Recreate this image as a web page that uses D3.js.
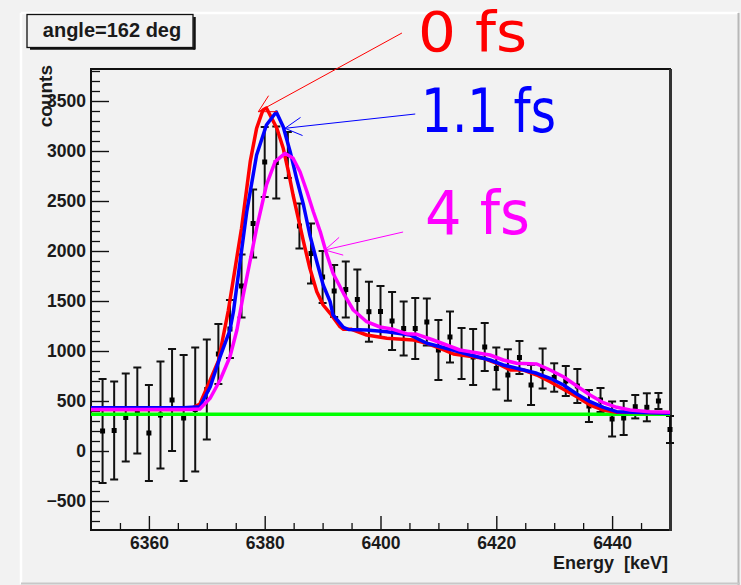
<!DOCTYPE html>
<html><head><meta charset="utf-8">
<script src="https://cdn.jsdelivr.net/npm/d3@7"></script>
<style>
html,body{margin:0;padding:0;background:#f2f2f2;}
svg{display:block;}
</style></head><body>
<svg id="chart" width="741" height="585"></svg>
<script>
// ---- data ----
const energy = [6352,6354,6356,6358,6360,6362,6364,6366,6368,6370,6372,6374,6376,6378,6380,6382,6384,6386,6388,6390,6392,6394,6396,6398,6400,6402,6404,6406,6408,6410,6412,6414,6416,6418,6420,6422,6424,6426,6428,6430,6432,6434,6436,6438,6440,6442,6444,6446,6448,6450];
const counts = [200,205,335,405,180,360,510,330,415,615,970,1220,1650,2275,2890,2885,2960,2250,1975,1740,1600,1615,1515,1393,1395,1300,1225,1225,1290,1010,1140,975,940,1040,825,760,935,660,825,735,700,650,450,510,320,330,443,437,500,215];
const errors = [520,490,440,430,480,535,510,630,620,500,300,290,315,340,350,360,230,225,300,260,260,280,300,300,255,290,270,305,235,300,255,255,280,240,210,257,165,200,200,142,150,170,160,120,175,170,117,140,80,135];

const redE = [6350,6366,6367.5,6368.8,6370.6,6372.0,6373.7,6376.0,6377.5,6378.6,6379.7,6380.3,6382.1,6383.2,6384.1,6384.9,6385.8,6386.7,6387.8,6389.0,6390.1,6391.3,6393.0,6393.6,6395.0,6397.6,6401.1,6405.7,6408.0,6410.3,6412.6,6416.0,6417.8,6420.1,6422.4,6424.7,6427.0,6429.3,6431.6,6433.9,6436.2,6438.5,6440.8,6450];
const redV = [415,415,430,470,710,900,1400,2227,2893,3227,3410,3430,3227,3027,2793,2560,2327,2093,1827,1593,1460,1377,1243,1217,1217,1160,1127,1110,1077,1027,970,943,927,877,810,810,760,693,617,543,460,410,387,383];

const blueE = [6350,6366,6368.8,6370.6,6372.3,6374.0,6374.6,6376.9,6378.6,6380.3,6382.0,6383.2,6384.4,6385.5,6386.7,6387.8,6389.0,6390.1,6391.3,6391.8,6393.6,6394.5,6397.6,6401.1,6405.1,6408.0,6412.0,6415.5,6418.9,6421.2,6423.5,6427.0,6429.3,6431.6,6433.9,6436.2,6438.5,6440.8,6450];
const blueV = [433,433,443,643,943,1210,1393,2393,2960,3260,3390,3243,2993,2727,2460,2160,1893,1660,1493,1360,1237,1215,1210,1193,1160,1077,1017,960,910,860,827,777,727,660,570,493,437,393,377];

const magE = [6350,6367,6368.8,6370.6,6372.3,6374.0,6375.2,6376.3,6378.6,6380.3,6381.8,6383.5,6384.9,6386.1,6387.3,6388.4,6389.6,6390.6,6391.8,6393.6,6395.3,6397.6,6399.9,6402.2,6404.5,6406.3,6409.1,6411.4,6413.7,6415.5,6418.9,6421.2,6423.5,6427.0,6429.3,6431.6,6433.9,6436.2,6438.5,6440.8,6443.1,6446.5,6450];
const magV = [415,415,420,530,710,943,1210,1560,2227,2660,2893,2977,2927,2793,2593,2393,2193,1990,1777,1577,1410,1293,1240,1217,1173,1167,1110,1060,1010,993,960,910,877,870,810,743,650,560,483,437,410,393,387];

const greenE = [6350,6450];
const greenV = [368,368];

const xMajor = [6360,6380,6400,6420,6440];
const yMajor = [-500,0,500,1000,1500,2000,2500,3000,3500];

const labels = ["0 fs","1.1 fs","4 fs"];
const labelColors = ["#ff0000","#0000ff","#ff00ff"];
// arrow tips / tails in data coordinates
const arrowTipE = [6378.9,6383.5,6390.4];
const arrowTipV = [3393,3227,2010];
const arrowTailE = [6403.7,6406.0,6403.9];
const arrowTailV = [4180,3370,2190];

// ---- layout ----
const W = 741, H = 585;
const L = 91, R = 670, T = 69, B = 530;
const svg = d3.select("#chart");
const x = d3.scaleLinear().domain([6350,6450]).range([L,R]);
const y = d3.scaleLinear().domain([-790,3820]).range([B,T]);
const FONT = "'Liberation Sans', Arial, Helvetica, sans-serif";

// canvas background and edges
svg.append("rect").attr("width",W).attr("height",H).attr("fill","#f2f2f2");
svg.append("line").attr("x1",21).attr("x2",21).attr("y1",13).attr("y2",584).attr("stroke","#ffffff").attr("stroke-width",2.5);
svg.append("line").attr("x1",21).attr("x2",738).attr("y1",13).attr("y2",13).attr("stroke","#ffffff").attr("stroke-width",2.5);
svg.append("line").attr("x1",738.5).attr("x2",738.5).attr("y1",13).attr("y2",585).attr("stroke","#b8b8b8").attr("stroke-width",2);
svg.append("line").attr("x1",21).attr("x2",740).attr("y1",583.5).attr("y2",583.5).attr("stroke","#c8c8c8").attr("stroke-width",2);

// minor ticks
const yMinor = d3.range(-700,3801,100).filter(v => v % 500 !== 0);
const xMinor = d3.range(6355,6450,5).filter(v => (v-6360) % 20 !== 0);

const gyMinor = svg.append("g").attr("transform",`translate(${L},0)`)
  .call(d3.axisLeft(y).tickValues(yMinor).tickSize(-9).tickFormat(""));
const gxMinor = svg.append("g").attr("transform",`translate(0,${B})`)
  .call(d3.axisBottom(x).tickValues(xMinor).tickSize(-7).tickFormat(""));
[gyMinor,gxMinor].forEach(g => { g.select(".domain").remove(); g.selectAll("line").attr("stroke","#111").attr("stroke-width",1.3); });

// major axes
const gy = svg.append("g").attr("transform",`translate(${L},0)`)
  .call(d3.axisLeft(y).tickValues(yMajor).tickSize(-18).tickPadding(5).tickFormat(d3.format("d")));
const gx = svg.append("g").attr("transform",`translate(0,${B})`)
  .call(d3.axisBottom(x).tickValues(xMajor).tickSize(-14).tickPadding(7).tickFormat(d3.format("d")));
[gy,gx].forEach(g => {
  g.select(".domain").remove();
  g.selectAll("line").attr("stroke","#111").attr("stroke-width",1.4);
  g.selectAll("text").attr("font-family",FONT).attr("font-weight","bold").attr("font-size","17.5px").attr("fill","#1a1a1a");
});

// frame
svg.append("rect").attr("x",L).attr("y",T).attr("width",R-L).attr("height",B-T)
  .attr("fill","none").attr("stroke","#111").attr("stroke-width",2);
svg.append("line").attr("x1",R+0.5).attr("x2",R+0.5).attr("y1",T).attr("y2",B+1).attr("stroke","#333").attr("stroke-width",3);

// error bars and markers
const pts = svg.append("g");
energy.forEach((e,i) => {
  const cx = x(e), lo = y(counts[i]-errors[i]), hi = y(counts[i]+errors[i]);
  pts.append("line").attr("x1",cx).attr("x2",cx).attr("y1",lo).attr("y2",hi).attr("stroke","#111").attr("stroke-width",2);
  pts.append("line").attr("x1",cx-4).attr("x2",cx+4).attr("y1",lo).attr("y2",lo).attr("stroke","#111").attr("stroke-width",2);
  pts.append("line").attr("x1",cx-4).attr("x2",cx+4).attr("y1",hi).attr("y2",hi).attr("stroke","#111").attr("stroke-width",2);
  pts.append("rect").attr("x",cx-2.5).attr("y",y(counts[i])-2.5).attr("width",5).attr("height",5).attr("fill","#000");
});

// curves
const line = d3.line().x(d => x(d[0])).y(d => y(d[1]));
function curve(E,V,color,w){
  svg.append("path").datum(E.map((e,i)=>[e,V[i]]))
    .attr("d",line).attr("fill","none").attr("stroke",color).attr("stroke-width",w)
    .attr("stroke-linejoin","round");
}
curve(greenE,greenV,"#00ff00",3.5);
curve(redE,redV,"#ff0000",3.5);
curve(blueE,blueV,"#0000ff",3.5);
curve(magE,magV,"#ff00ff",3.5);

// annotation arrows (open heads)
labels.forEach((lab,i) => {
  const tx = x(arrowTipE[i]), ty = y(arrowTipV[i]);
  const sx = x(arrowTailE[i]), sy = y(arrowTailV[i]);
  const c = labelColors[i];
  svg.append("line").attr("x1",sx).attr("y1",sy).attr("x2",tx).attr("y2",ty).attr("stroke",c).attr("stroke-width",1);
  const ang = Math.atan2(sy-ty, sx-tx);
  [-0.5,0.5].forEach(d => {
    svg.append("line").attr("x1",tx).attr("y1",ty)
      .attr("x2",tx+19*Math.cos(ang+d)).attr("y2",ty+19*Math.sin(ang+d))
      .attr("stroke",c).attr("stroke-width",1);
  });
});

// big labels
const labelX = [418,421,425], labelY = [51,132,234], labelLen = [109,135,105], labelSize = [56,60,60];
labels.forEach((lab,i) => {
  svg.append("text").attr("x",labelX[i]).attr("y",labelY[i]).text(lab)
    .attr("font-family","'Comic Sans MS','DejaVu Sans',sans-serif").attr("font-size",labelSize[i]+"px")
    .attr("fill",labelColors[i]).attr("textLength",labelLen[i]).attr("lengthAdjust","spacingAndGlyphs");
});

// title box
svg.append("line").attr("x1",30).attr("x2",195).attr("y1",48.5).attr("y2",48.5).attr("stroke","#111").attr("stroke-width",2.5);
svg.append("line").attr("x1",194.5).attr("x2",194.5).attr("y1",17).attr("y2",49.5).attr("stroke","#111").attr("stroke-width",2.5);
svg.append("rect").attr("x",27).attr("y",14.5).attr("width",166).attr("height",33).attr("fill","#f2f2f2").attr("stroke","#111").attr("stroke-width",1.3);
svg.append("text").attr("x",112).attr("y",37).attr("text-anchor","middle").text("angle=162 deg")
  .attr("font-family",FONT).attr("font-weight","bold").attr("font-size","20px").attr("fill","#1a1a1a");

// axis titles
svg.append("text").attr("transform","translate(52,65) rotate(-90)").attr("text-anchor","end").text("counts")
  .attr("font-family",FONT).attr("font-weight","bold").attr("font-size","19px").attr("fill","#1a1a1a");
svg.append("text").attr("x",668).attr("y",569).attr("text-anchor","end").attr("xml:space","preserve")
  .style("white-space","pre").text("Energy  [keV]")
  .attr("font-family",FONT).attr("font-weight","bold").attr("font-size","18px").attr("fill","#1a1a1a");
</script>
</body></html>
